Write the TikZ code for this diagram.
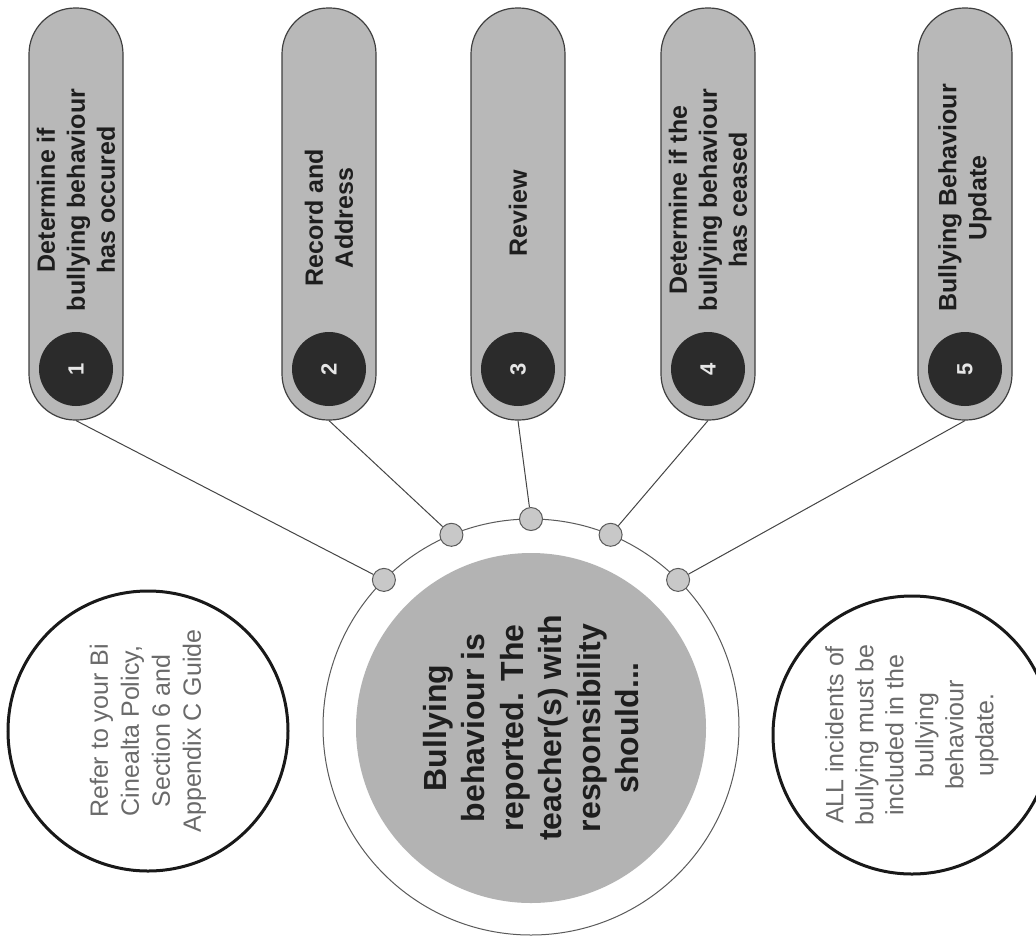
\documentclass[tikz,border=0pt]{standalone}
\usepackage{fontspec}
\setmainfont{Liberation Sans}
\usetikzlibrary{calc}
\definecolor{pillfill}{HTML}{B8B8B8}
\definecolor{pillline}{HTML}{404040}
\definecolor{numfill}{HTML}{2B2B2B}
\definecolor{numtext}{HTML}{E6E6E6}
\definecolor{darktext}{HTML}{1E1E1E}
\definecolor{ringline}{HTML}{5A5A5A}
\definecolor{diskfill}{HTML}{B3B3B3}
\definecolor{dotfill}{HTML}{C8C8C8}
\definecolor{greytext}{HTML}{6A6A6A}
\definecolor{connline}{HTML}{454545}
\begin{document}
\begin{tikzpicture}[x=1pt,y=-1pt,
  pill/.style={draw=pillline, fill=pillfill, line width=1.2pt, rounded corners=46pt,
    minimum width=94pt, minimum height=412pt, inner sep=0pt},
  numdisk/.style={circle, fill=numfill, minimum size=74pt, inner sep=0pt, text=numtext,
    font=\fontsize{22}{24}\selectfont\bfseries, rotate=90},
  pilltext/.style={rotate=90, align=center, text=darktext, inner sep=0pt,
    font=\fontsize{25}{30}\selectfont\bfseries},
  dot/.style={circle, draw=ringline, fill=dotfill, line width=1pt, minimum size=23pt, inner sep=0pt},
  conn/.style={draw=connline, line width=1pt},
  note/.style={circle, draw=black!90, line width=3pt, fill=white, inner sep=0pt,
    rotate=90, align=center, text=greytext, font=\fontsize{25}{31}\selectfont}
]
\useasboundingbox (0,0) rectangle (1036,938);
\clip (0,0) rectangle (1036,938);
\fill[white] (0,0) rectangle (1036,938);

% pills
\node[pill] (p1) at (76,214) {};
\node[pill] (p2) at (329,214) {};
\node[pill] (p3) at (518,214) {};
\node[pill] (p4) at (708,214) {};
\node[pill] (p5) at (965,214) {};

\node[pilltext] (t1) at (76,200) {Determine if\\bullying behaviour\\has occured};
\node[pilltext] (t2) at (329,218) {Record and\\Address};
\node[pilltext] (t3) at (518,213) {Review};
\node[pilltext] (t4) at (708,200) {Determine if the\\bullying behaviour\\has ceased};
\node[pilltext] (t5) at (965,198) {Bullying Behaviour\\Update};

\node[numdisk] (n1) at (76,369) {1};
\node[numdisk] (n2) at (329,369) {2};
\node[numdisk] (n3) at (518,369) {3};
\node[numdisk] (n4) at (708,369) {4};
\node[numdisk] (n5) at (965,369) {5};

% central circle
\node[circle, draw=ringline, fill=white, line width=1pt, minimum size=416pt, inner sep=0pt] (ring) at (531,727) {};
\node[circle, fill=diskfill, minimum size=350pt, inner sep=0pt, rotate=90, align=center,
  text=darktext, font=\fontsize{32}{38.5}\selectfont\bfseries] (disk) at (531,728)
  {Bullying\\behaviour is\\reported. The\\teacher(s) with\\responsibility\\should...};

% dots on ring
\node[dot] (s1) at ($(531,727)+(-147.1,-147.1)$) {};
\node[dot] (s2) at ($(531,727)+(-79.6,-192.2)$) {};
\node[dot] (s3) at (531,519) {};
\node[dot] (s4) at ($(531,727)+(79.6,-192.2)$) {};
\node[dot] (s5) at ($(531,727)+(147.1,-147.1)$) {};

% connectors
\draw[conn] (p1.south) -- (s1);
\draw[conn] (p2.south) -- (s2);
\draw[conn] (p3.south) -- (s3);
\draw[conn] (p4.south) -- (s4);
\draw[conn] (p5.south) -- (s5);

% side notes
\node[note, minimum size=280pt] (left) at (148,731)
  {Refer to your Bi\\Cinealta Policy,\\Section 6 and\\Appendix C Guide};
\node[note, minimum size=278pt, font=\fontsize{25}{30}\selectfont] (right) at (912,735)
  {ALL incidents of\\bullying must be\\included in the\\bullying\\behaviour\\update.};
\end{tikzpicture}
\end{document}
